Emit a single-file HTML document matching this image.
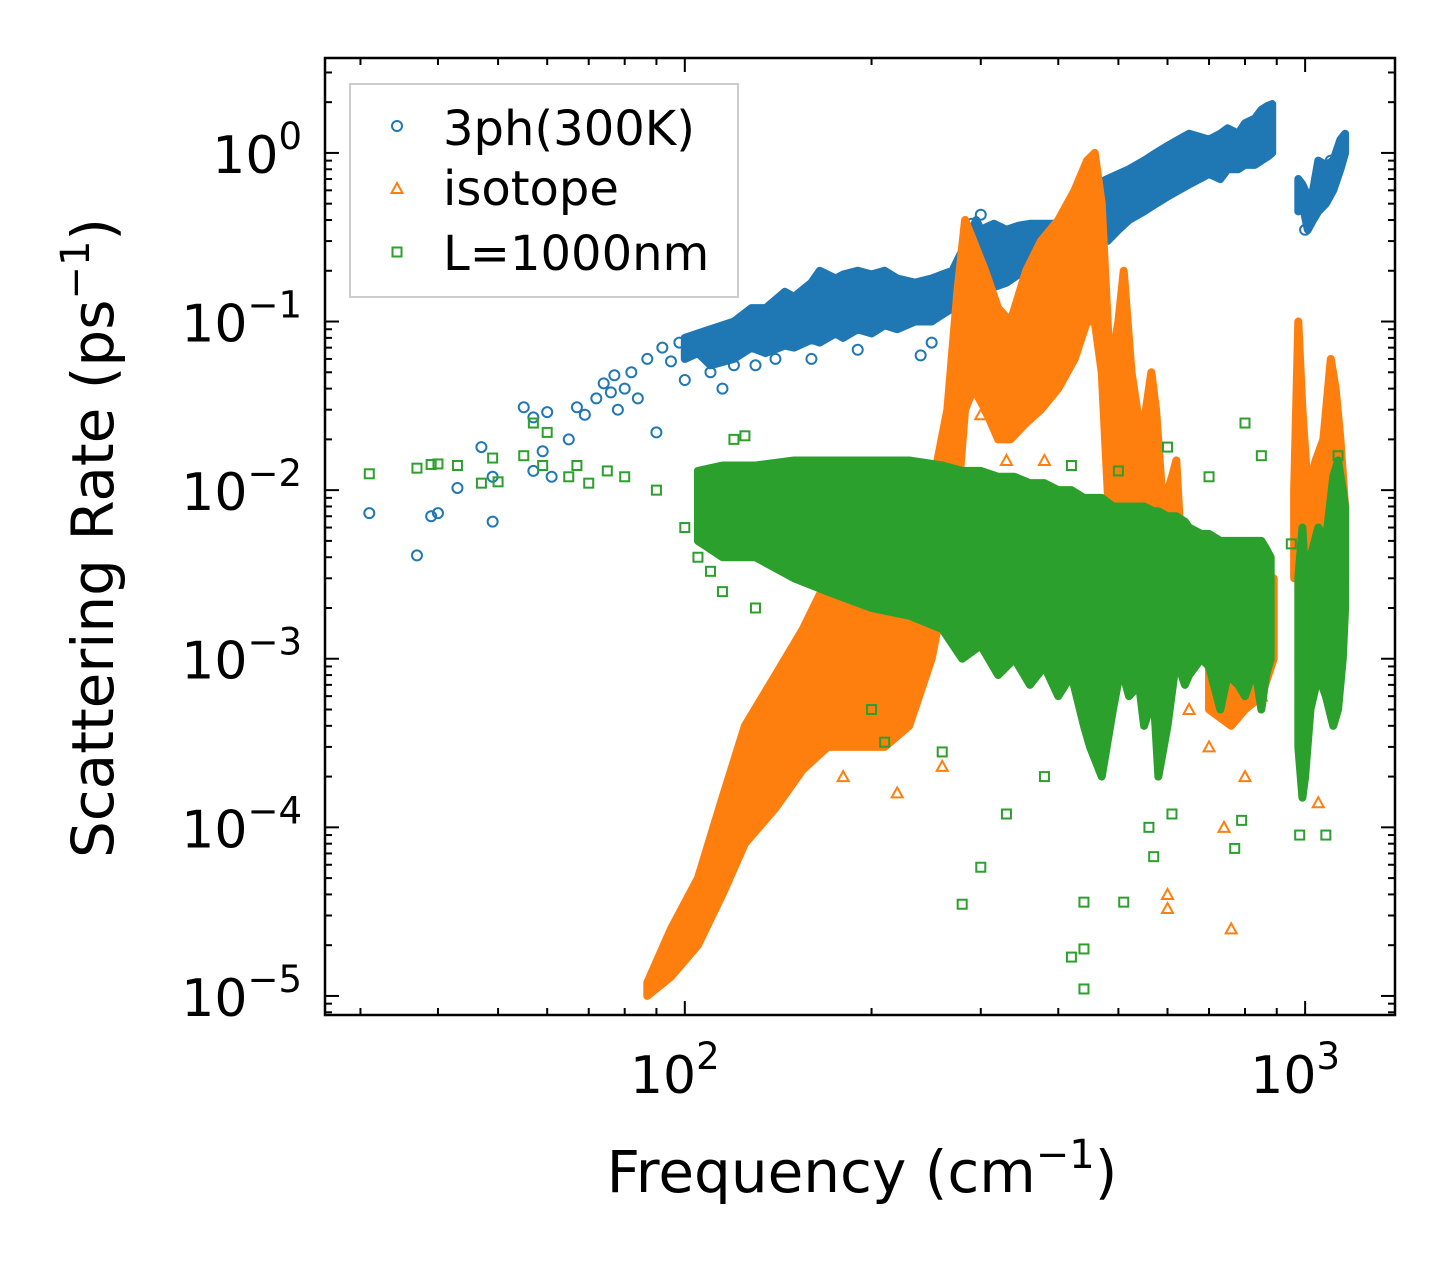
<!DOCTYPE html>
<html><head><meta charset="utf-8">
<style>
html,body{margin:0;padding:0;background:#fff;}
svg{display:block;font-family:"DejaVu Sans","Liberation Sans",sans-serif;}
</style></head>
<body>
<svg id="chart" width="1455" height="1265" viewBox="0 0 1455 1265" xmlns="http://www.w3.org/2000/svg">
<rect width="1455" height="1265" fill="#fff"/>
<g id="marks"></g>
<g id="axes"></g>
<text x="862" y="1192" font-size="58" text-anchor="middle">Frequency (cm<tspan dy="-24" font-size="40">−1</tspan><tspan dy="24">)</tspan></text>
<text transform="translate(113,538) rotate(-90)" font-size="58" text-anchor="middle">Scattering Rate (ps<tspan dy="-24" font-size="40">−1</tspan><tspan dy="24">)</tspan></text>
<g>
<rect x="350" y="84" width="388" height="213" fill="#fff" fill-opacity="0.8" stroke="#ccc" stroke-width="2"/>
<g><circle cx="397" cy="126" r="5" fill="none" stroke="#1f77b4" stroke-width="2"/><text x="443" y="145" font-size="48">3ph(300K)</text></g>
<g><polygon points="397,183 402.5,193 391.5,193" fill="none" stroke="#ff7f0e" stroke-width="2"/><text x="443" y="205" font-size="48">isotope</text></g>
<g><rect x="392.5" y="247.5" width="9" height="9" fill="none" stroke="#2ca02c" stroke-width="2"/><text x="443" y="270" font-size="48">L=1000nm</text></g>
</g>
</svg>
<script>
// ---- data ----
const blueBandF = [100,105,110,120,128,135,145,150,160,165,175,180,190,200,210,220,235,250,260,270,285,295,300,315,330,345,360,380,400,420,430,445,460,480,500,520,550,575,600,625,650,700,730,750,780,800,830,850,870,885];
const blueBandLo = [0.06,0.065,0.055,0.06,0.07,0.065,0.072,0.07,0.078,0.075,0.085,0.08,0.09,0.085,0.095,0.09,0.1,0.1,0.11,0.12,0.13,0.14,0.15,0.16,0.17,0.19,0.2,0.2,0.22,0.23,0.25,0.28,0.3,0.3,0.35,0.4,0.45,0.5,0.55,0.6,0.65,0.75,0.7,0.8,0.8,0.85,0.85,0.9,0.95,1.0];
const blueBandHi = [0.08,0.085,0.09,0.1,0.12,0.12,0.15,0.14,0.17,0.2,0.18,0.19,0.2,0.19,0.2,0.18,0.17,0.18,0.19,0.2,0.3,0.4,0.35,0.38,0.35,0.37,0.38,0.38,0.38,0.4,0.45,0.55,0.65,0.7,0.75,0.8,0.9,1.0,1.1,1.2,1.3,1.2,1.3,1.4,1.3,1.5,1.6,1.8,1.9,1.95];
const blueBand2F = [975,990,1010,1030,1050,1080,1110,1140,1160];
const blueBand2Lo = [0.45,0.5,0.35,0.4,0.45,0.5,0.6,0.8,1.0];
const blueBand2Hi = [0.7,0.65,0.55,0.6,0.9,0.85,0.9,1.2,1.3];
const bluePtsF = [31,37,39,40,43,47,49,49,55,57,57,59,60,61,65,67,69,72,74,76,77,78,80,82,84,87,90,92,95,98,100,103,110,115,120,130,140,160,190,240,250,300,290,1000,1050,1100];
const bluePtsV = [0.0073,0.0041,0.007,0.0073,0.0103,0.018,0.0065,0.012,0.031,0.013,0.027,0.017,0.029,0.012,0.02,0.031,0.028,0.035,0.043,0.038,0.048,0.03,0.04,0.05,0.035,0.06,0.022,0.07,0.058,0.075,0.045,0.07,0.05,0.04,0.055,0.055,0.06,0.06,0.068,0.063,0.075,0.43,0.38,0.35,0.5,0.9];

const orBandF = [87,95,105,115,125,140,155,170,190,210,230,250,265,275,283,292,305,320,335,355,375,400,425,445,458,470,485,500,510,525,545,565,575,590,610,620,635];
const orBandLo = [1e-5,1.3e-5,2e-5,4e-5,8e-5,1.3e-4,2.2e-4,3e-4,3e-4,3e-4,4e-4,1e-3,3e-3,0.008,0.03,0.04,0.03,0.02,0.02,0.025,0.03,0.04,0.06,0.1,0.1,0.05,0.005,0.004,0.008,0.003,0.002,0.004,0.003,0.001,0.001,0.002,0.001];
const orBandHi = [1.2e-5,2.5e-5,5e-5,1.5e-4,4e-4,8e-4,1.5e-3,3e-3,4e-3,5e-3,5e-3,0.01,0.03,0.15,0.4,0.3,0.2,0.12,0.1,0.2,0.3,0.4,0.6,0.9,1.0,0.5,0.05,0.1,0.2,0.05,0.02,0.05,0.03,0.008,0.012,0.015,0.003];
const orBand2F = [700,760,800,850,890];
const orBand2Lo = [5e-4,4e-4,5e-4,6e-4,1e-3];
const orBand2Hi = [2e-3,4e-3,3e-3,3e-3,3e-3];
const orBand3F = [960,975,990,1010,1040,1070,1100,1120,1140,1160];
const orBand3Lo = [0.003,0.005,0.002,0.002,0.002,0.003,0.005,0.01,0.005,0.003];
const orBand3Hi = [0.01,0.1,0.03,0.01,0.015,0.02,0.06,0.04,0.02,0.008];
const orPtsF = [180,220,260,300,330,380,420,600,600,760,740,650,700,800,850,1050,1100,870,760,700,150,130];
const orPtsV = [2e-4,1.6e-4,2.3e-4,0.028,0.015,0.015,0.004,4e-5,3.3e-5,2.5e-5,1e-4,5e-4,3e-4,2e-4,6e-4,1.4e-4,1.5e-3,1e-3,1.5e-3,1.6e-3,5e-4,3e-4];

const grBandF = [105,115,130,150,170,200,230,260,280,300,320,340,360,380,400,420,440,450,470,490,505,520,540,550,570,580,600,620,640,650,680,700,730,750,780,800,830,850,865,880];
const grBandLo = [0.005,0.004,0.004,0.003,0.0025,0.002,0.0018,0.0015,0.001,0.0012,0.0008,0.001,0.0007,0.0009,0.0006,0.0008,0.0004,0.0003,0.0002,0.0005,0.0009,0.0006,0.0007,0.0004,0.0006,0.0002,0.0004,0.001,0.0007,0.0008,0.001,0.0009,0.0005,0.0008,0.0007,0.0006,0.0009,0.0005,0.0008,0.001];
const grBandHi = [0.013,0.014,0.014,0.015,0.015,0.015,0.015,0.014,0.013,0.013,0.012,0.012,0.011,0.011,0.01,0.01,0.009,0.009,0.009,0.008,0.008,0.008,0.008,0.008,0.0075,0.0075,0.007,0.007,0.0065,0.006,0.0055,0.0055,0.005,0.005,0.005,0.005,0.005,0.005,0.0045,0.004];
const grBand2F = [975,990,1000,1020,1050,1080,1110,1130,1150,1160];
const grBand2Lo = [3e-4,1.5e-4,2e-4,5e-4,8e-4,6e-4,4e-4,5e-4,1e-3,2e-3];
const grBand2Hi = [0.003,0.006,0.003,0.004,0.006,0.005,0.012,0.015,0.01,0.008];
const grPtsF = [31,37,39,40,43,47,49,50,55,57,59,60,65,67,70,75,80,90,100,105,110,115,120,125,130,150,200,210,260,280,300,330,380,440,440,440,420,510,560,570,610,770,790,800,980,1080,600,500,420,700,850,1130,950];
const grPtsV = [0.0125,0.0135,0.0142,0.0143,0.014,0.011,0.0155,0.0112,0.016,0.025,0.014,0.022,0.012,0.014,0.011,0.013,0.012,0.01,0.006,0.004,0.0033,0.0025,0.02,0.021,0.002,0.005,0.0005,0.00032,0.00028,3.5e-5,5.8e-5,0.00012,0.0002,3.6e-5,1.9e-5,1.1e-5,1.7e-5,3.6e-5,0.0001,6.7e-5,0.00012,7.5e-5,0.00011,0.025,9e-5,9e-5,0.018,0.013,0.014,0.012,0.016,0.016,0.0048];

const xTickVals = [100,1000];
const xTickLabels = ["2","3"];
const yTickVals = [1,0.1,0.01,0.001,0.0001,0.00001];
const yTickLabels = ["0","−1","−2","−3","−4","−5"];

// ---- axes ----
const L=325,R=1395,T=58,B=1015;
const xmin=Math.log10(26.3),xmax=Math.log10(1396),ymin=-5.113,ymax=0.563;
const X=f=>L+(Math.log10(f)-xmin)/(xmax-xmin)*(R-L);
const Y=v=>B-(Math.log10(v)-ymin)/(ymax-ymin)*(B-T);
const NS="http://www.w3.org/2000/svg";
const marks=document.getElementById('marks'), axes=document.getElementById('axes');
function mk(tag,attrs,parent){const e=document.createElementNS(NS,tag);for(const k in attrs)e.setAttribute(k,attrs[k]);parent.appendChild(e);return e;}

const defs=mk('defs',{},document.getElementById('chart'));
const cp=mk('clipPath',{id:'clip'},defs);mk('rect',{x:L,y:T,width:R-L,height:B-T},cp);
marks.setAttribute('clip-path','url(#clip)');

function band(F,Lo,Hi,color,name){
  let pts=F.map((f,i)=>X(f)+','+Y(Hi[i]));
  for(let i=F.length-1;i>=0;i--)pts.push(X(F[i])+','+Y(Lo[i]));
  const p=mk('polygon',{points:pts.join(' '),fill:color,stroke:color,'stroke-width':8,'stroke-linejoin':'round'},marks);
  
  
}
function pts(F,V,color,shape,name){
  const g=mk('g',{fill:'none',stroke:color,'stroke-width':2},marks);
  
  
  F.forEach((f,i)=>{
    const x=X(f),y=Y(V[i]);let e;
    if(shape==='c') e=mk('circle',{cx:x,cy:y,r:5},g);
    else if(shape==='t') e=mk('polygon',{points:`${x},${y-5.5} ${x+5.5},${y+4.5} ${x-5.5},${y+4.5}`},g);
    else e=mk('rect',{x:x-4.5,y:y-4.5,width:9,height:9},g);
    
    
  });
}
const BLUE='#1f77b4',OR='#ff7f0e',GR='#2ca02c';
band(blueBandF,blueBandLo,blueBandHi,BLUE,'3ph-dense-band');
band(blueBand2F,blueBand2Lo,blueBand2Hi,BLUE,'3ph-high-band');
pts(bluePtsF,bluePtsV,BLUE,'c','3ph-points');
band(orBandF,orBandLo,orBandHi,OR,'isotope-dense-band');
band(orBand2F,orBand2Lo,orBand2Hi,OR,'isotope-mid-band');
band(orBand3F,orBand3Lo,orBand3Hi,OR,'isotope-high-band');
pts(orPtsF,orPtsV,OR,'t','isotope-points');
band(grBandF,grBandLo,grBandHi,GR,'boundary-dense-band');
band(grBand2F,grBand2Lo,grBand2Hi,GR,'boundary-high-band');
pts(grPtsF,grPtsV,GR,'s','boundary-points');

// frame
const fr=mk('rect',{x:L,y:T,width:R-L,height:B-T,fill:'none',stroke:'#000','stroke-width':2.5},axes);


// x ticks
for(let d=1;d<=3;d++)for(let m=1;m<10;m++){
  const f=m*Math.pow(10,d);const x=X(f);if(x<L||x>R)continue;
  const len=m===1?14:7;
  mk('line',{x1:x,y1:B,x2:x,y2:B-len,stroke:'#000','stroke-width':2},axes);
  mk('line',{x1:x,y1:T,x2:x,y2:T+len,stroke:'#000','stroke-width':2},axes);
}
xTickVals.forEach((v,i)=>{
  const t=mk('text',{x:X(v)-10,y:1093,'font-size':52,'text-anchor':'middle'},axes);
  
  
  t.textContent='10';
  const s=mk('tspan',{dy:-24,'font-size':37},t);s.textContent=xTickLabels[i];
});
// y ticks
for(let d=-6;d<=0;d++)for(let m=1;m<10;m++){
  const v=m*Math.pow(10,d);const y=Y(v);if(y<T||y>B)continue;
  const len=m===1?14:7;
  mk('line',{x1:L,y1:y,x2:L+len,y2:y,stroke:'#000','stroke-width':2},axes);
  mk('line',{x1:R,y1:y,x2:R-len,y2:y,stroke:'#000','stroke-width':2},axes);
}
yTickVals.forEach((v,i)=>{
  const t=mk('text',{x:302,y:Y(v)+20,'font-size':52,'text-anchor':'end'},axes);
  
  
  t.appendChild(document.createTextNode('10'));
  const s=mk('tspan',{dy:-24,'font-size':37},t);s.textContent=yTickLabels[i];
});
</script>
</body></html>
